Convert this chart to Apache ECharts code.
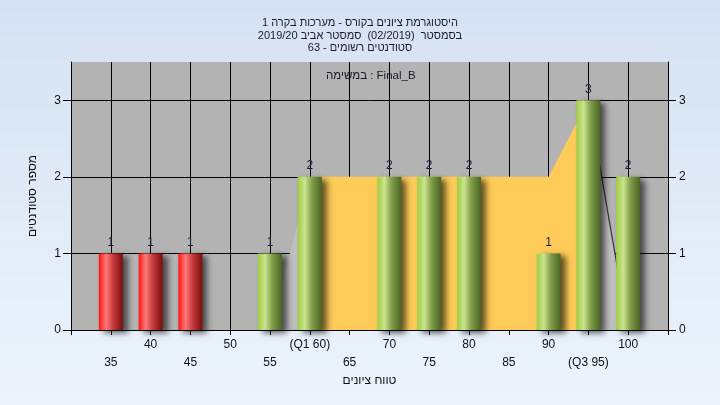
<!DOCTYPE html>
<html>
<head>
<meta charset="utf-8">
<script src="https://cdn.jsdelivr.net/npm/echarts@6/dist/echarts.min.js"></script>
<style>
html,body{margin:0;padding:0;}
#chart{width:720px;height:405px;direction:rtl;}
</style>
</head>
<body>
<div id="chart" dir="rtl"></div>
<script>
// ---- data ----
const scores = [35, 40, 45, 50, 55, 60, 65, 70, 75, 80, 85, 90, 95, 100];
const counts = [1, 1, 1, 0, 1, 2, 0, 2, 2, 2, 0, 1, 3, 2];
const passMark = 55;
const q1 = 60;
const q3 = 95;
const curveX = [55, 60, 65, 70, 75, 80, 85, 90, 95, 100];
const curveY = [0, 2, 2, 2, 2, 2, 2, 2, 3, 0];
const upperTickValues = [40, 50, 60, 70, 80, 90, 100];
const upperTickLabels = ['40', '50', '(Q1 60)', '70', '80', '90', '100'];
const lowerTickValues = [35, 45, 55, 65, 75, 85, 95];
const lowerTickLabels = ['35', '45', '55', '65', '75', '85', '(Q3 95)'];
const yTickValues = [0, 1, 2, 3];
const titleLines = [
  'היסטוגרמת ציונים בקורס - מערכות בקרה 1',
  'בסמסטר  (02/2019)  סמסטר אביב 2019/20',
  'סטודנטים רשומים - 63'
];
const xAxisTitle = 'טווח ציונים';
const yAxisTitle = 'מספר סטודנטים';
const examLabel = 'Final_B : במשימה';

// ---- styles ----
const FONT = '"Liberation Sans", Arial, sans-serif';
const grad = (stops) => new echarts.graphic.LinearGradient(0, 0, 1, 0,
  stops.map(s => ({offset: s[0], color: s[1]})));
const redGrad = () => grad([[0, '#ff1414'], [0.3, '#ff7878'], [0.6, '#c43a3a'], [1, '#7a0e0e']]);
const greenGrad = () => grad([[0, '#a0cc42'], [0.3, '#cbe38f'], [0.6, '#7f9c48'], [1, '#4a6424']]);

const barData = scores.map((s, i) => ({
  value: [s, counts[i]],
  itemStyle: {color: s < passMark ? redGrad() : greenGrad()}
}));

const pts = curveX.map((x, i) => [x, curveY[i]]);
const leftPts = pts.filter(p => p[0] <= q1);
const midPts = pts.filter(p => p[0] >= q1 && p[0] <= q3);
const rightPts = pts.filter(p => p[0] >= q3);

const mkLabel = (vals, labels) => (v) => {
  const k = vals.indexOf(v);
  return k >= 0 ? labels[k] : '';
};

const chart = echarts.init(document.getElementById('chart'), null, {renderer: 'canvas'});
chart.setOption({
  animation: false,
  backgroundColor: new echarts.graphic.LinearGradient(0, 0, 0, 1, [
    {offset: 0, color: '#d5e2f3'}, {offset: 1, color: '#ecf3fc'}
  ]),
  textStyle: {fontFamily: FONT},
  title: {
    text: titleLines.join('\n'),
    left: 'center',
    top: 12,
    textStyle: {fontSize: 11, fontWeight: 'normal', color: '#1a1a2a', lineHeight: 12.5, fontFamily: FONT}
  },
  graphic: [{
    type: 'text',
    left: 326,
    top: 70,
    style: {text: examLabel, fontSize: 11.5, fill: '#1a1a2a', fontFamily: FONT}
  }],
  grid: {
    left: 71, right: 52, top: 62, bottom: 75,
    show: true, backgroundColor: '#b3b3b3', borderWidth: 0
  },
  xAxis: [{
    type: 'value', min: 30, max: 105, interval: 5, position: 'bottom',
    axisLine: {show: true, onZero: false, lineStyle: {color: '#000', width: 1}},
    axisTick: {show: true, inside: false, length: 5, lineStyle: {color: '#000'}},
    splitLine: {show: true, lineStyle: {color: '#000', width: 1}},
    axisLabel: {margin: 9, fontSize: 12, color: '#111', fontFamily: FONT,
      formatter: mkLabel(upperTickValues, upperTickLabels)}
  }, {
    type: 'value', min: 30, max: 105, interval: 5, position: 'bottom',
    axisLine: {show: false}, axisTick: {show: false}, splitLine: {show: false},
    axisLabel: {margin: 27, fontSize: 12, color: '#111', fontFamily: FONT,
      formatter: mkLabel(lowerTickValues, lowerTickLabels)},
    name: xAxisTitle, nameLocation: 'middle', nameGap: 45,
    nameTextStyle: {fontSize: 12, color: '#111', fontFamily: FONT}
  }],
  yAxis: [{
    type: 'value', min: 0, max: 3.5, position: 'left',
    axisLine: {show: true, lineStyle: {color: '#000'}},
    axisTick: {show: true, length: 8, customValues: yTickValues, lineStyle: {color: '#000'}},
    splitLine: {show: true, lineStyle: {color: '#000'}},
    axisLabel: {margin: 10, fontSize: 12, color: '#111', customValues: yTickValues,
      formatter: v => (yTickValues.indexOf(v) >= 0 ? String(v) : '')},
    name: yAxisTitle, nameLocation: 'middle', nameGap: 32,
    nameTextStyle: {fontSize: 12, color: '#111', fontFamily: FONT}
  }, {
    type: 'value', min: 0, max: 3.5, position: 'right',
    axisLine: {show: true, lineStyle: {color: '#000'}},
    axisTick: {show: true, length: 8, customValues: yTickValues, lineStyle: {color: '#000'}},
    splitLine: {show: false},
    axisLabel: {margin: 11, fontSize: 12, color: '#111', customValues: yTickValues,
      formatter: v => (yTickValues.indexOf(v) >= 0 ? String(v) : '')}
  }],
  series: [{
    type: 'line', data: leftPts, symbol: 'none', z: 1, silent: true,
    lineStyle: {width: 0}, areaStyle: {color: '#bebebe', opacity: 1}
  }, {
    type: 'line', data: midPts, symbol: 'none', z: 1, silent: true,
    lineStyle: {width: 0}, areaStyle: {color: '#fecb58', opacity: 1}
  }, {
    type: 'line', data: rightPts, symbol: 'none', z: 1, silent: true,
    lineStyle: {width: 1.2, color: '#333'}, areaStyle: {color: '#bebebe', opacity: 1}
  }, {
    type: 'bar', data: barData, barWidth: 24, z: 3,
    itemStyle: {shadowBlur: 6, shadowColor: 'rgba(0,0,0,0.6)', shadowOffsetX: 5, shadowOffsetY: 3},
    label: {show: true, position: 'top', distance: 5, fontSize: 12, color: '#1a1a3a', fontFamily: FONT,
      formatter: p => (p.value[1] ? String(p.value[1]) : '')}
  }]
});
</script>
</body>
</html>
